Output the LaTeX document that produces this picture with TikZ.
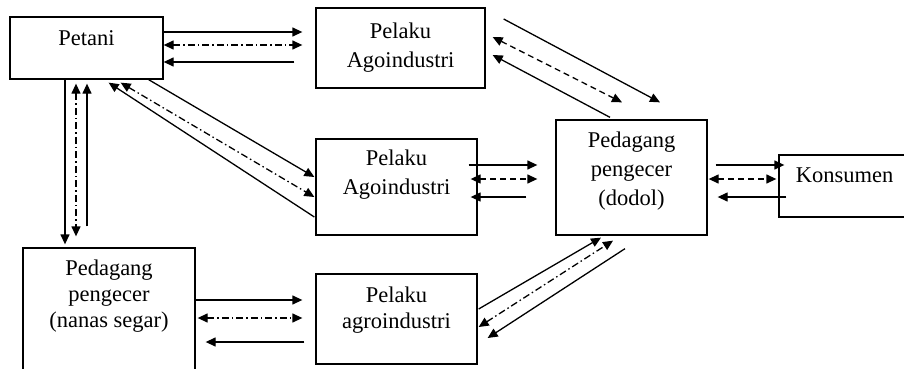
\documentclass[tikz,border=0pt]{standalone}
\usepackage{fontspec}
\setmainfont{Liberation Serif}
\usepackage{tikz}
\usetikzlibrary{arrows.meta}
\tikzset{%
  tipA/.tip={Triangle[length=10pt,width=9pt]},
}
\begin{document}
\begin{tikzpicture}[x=1pt,y=-1pt,
  font=\fontsize{22.5}{29}\selectfont,
  box/.style={draw, line width=1.3pt, inner sep=0pt},
  flow/.style={line width=1.3pt},
  dd/.style={flow, dash pattern=on 7pt off 3pt on 1.5pt off 3pt},
  ds/.style={flow, dash pattern=on 6pt off 4pt}]
\useasboundingbox (0,0) rectangle (904,369);
% boxes
\node[box, minimum width=153, minimum height=62, label={[yshift=10pt]center:Petani}] (petani) at (86.5,48) {};
\node[box, minimum width=169, minimum height=80, label={[align=center]center:Pelaku\\Agoindustri}] (agroA) at (400.5,48) {};
\node[box, minimum width=161, minimum height=96, label={[align=center,yshift=12pt]center:Pelaku\\Agoindustri}] (agroB) at (396.5,187) {};
\node[box, minimum width=151, minimum height=115, label={[align=center,yshift=6pt]center:Pedagang\\pengecer\\(dodol)}] (dodol) at (631.5,177.5) {};
\node[box, minimum width=151, minimum height=62, label={[xshift=-10pt,yshift=11pt]center:Konsumen}] (konsumen) at (854.5,186) {};
\node[box, minimum width=172, minimum height=142, label={[align=center,yshift=23pt,font=\fontsize{22.5}{26}\selectfont]center:Pedagang\\pengecer\\(nanas segar)}] (nanas) at (109,319) {};
\node[box, minimum width=161, minimum height=90, label={[align=center,yshift=9pt,font=\fontsize{22.5}{26}\selectfont]center:Pelaku\\agroindustri}] (agroC) at (396.5,319) {};
% petani -- agroA
\draw[flow, -tipA] ([yshift=16pt]petani.east) -- ([xshift=-13pt,yshift=16pt]agroA.west);
\draw[dd, tipA-tipA] ([yshift=3pt]petani.east) -- ([xshift=-13pt,yshift=3pt]agroA.west);
\draw[flow, -tipA] ([xshift=-21pt,yshift=-14pt]agroA.west) -- ([yshift=-14pt]petani.east);
% agroA -- dodol
\draw[flow, -tipA] ([xshift=18pt,yshift=29pt]agroA.east) -- ([xshift=28.5pt,yshift=17pt]dodol.north);
\draw[ds, tipA-tipA] ([xshift=7pt,yshift=11pt]agroA.east) -- ([xshift=-9.5pt,yshift=17pt]dodol.north);
\draw[flow, -tipA] ([xshift=-21.5pt,yshift=2pt]dodol.north) -- ([xshift=7pt,yshift=-7pt]agroA.east);
% petani -- agroB
\draw[flow, -tipA] ([xshift=-15pt]petani.south east) -- ([xshift=-1pt,yshift=10pt]agroB.west);
\draw[dd, tipA-tipA] ([xshift=-43pt,yshift=-3pt]petani.south east) -- ([xshift=-1pt,yshift=-10pt]agroB.west);
\draw[flow, -tipA] ([xshift=-1pt,yshift=-30pt]agroB.west) -- ([xshift=-55pt,yshift=-3pt]petani.south east);
% petani -- nanas
\draw[flow, -tipA] ([xshift=-21.5pt]petani.south) -- ([xshift=-44pt,yshift=3pt]nanas.north);
\draw[dd, tipA-tipA] ([xshift=-10.5pt,yshift=-4pt]petani.south) -- ([xshift=-33pt,yshift=11pt]nanas.north);
\draw[flow, -tipA] ([xshift=-22pt,yshift=21pt]nanas.north) -- ([xshift=0.5pt,yshift=-4pt]petani.south);
% agroB -- dodol
\draw[flow, -tipA] ([xshift=-9pt,yshift=22pt]agroB.east) -- ([xshift=-18pt,yshift=12.5pt]dodol.west);
\draw[ds, tipA-tipA] ([xshift=-7pt,yshift=8pt]agroB.east) -- ([xshift=-18pt,yshift=-1.5pt]dodol.west);
\draw[flow, -tipA] ([xshift=-29pt,yshift=-19.5pt]dodol.west) -- ([xshift=-7pt,yshift=-10pt]agroB.east);
% dodol -- konsumen
\draw[flow, -tipA] ([xshift=8pt,yshift=12.5pt]dodol.east) -- ([xshift=6pt,yshift=21pt]konsumen.west);
\draw[ds, tipA-tipA] ([xshift=1pt,yshift=-1.5pt]dodol.east) -- ([xshift=-2pt,yshift=7pt]konsumen.west);
\draw[flow, -tipA] ([xshift=8pt,yshift=-11pt]konsumen.west) -- ([xshift=10pt,yshift=-19.5pt]dodol.east);
% nanas -- agroC
\draw[flow, -tipA] ([yshift=19pt]nanas.east) -- ([xshift=-13pt,yshift=19pt]agroC.west);
\draw[dd, tipA-tipA] ([xshift=2pt,yshift=1pt]nanas.east) -- ([xshift=-13pt,yshift=1pt]agroC.west);
\draw[flow, -tipA] ([xshift=-11pt,yshift=-23pt]agroC.west) -- ([xshift=10pt,yshift=-23pt]nanas.east);
% agroC -- dodol
\draw[flow, -tipA] ([xshift=1pt,yshift=10pt]agroC.east) -- ([xshift=-30.5pt,yshift=-2pt]dodol.south);
\draw[dd, tipA-tipA] ([xshift=1pt,yshift=-8pt]agroC.east) -- ([xshift=-18.5pt,yshift=-5pt]dodol.south);
\draw[flow, -tipA] ([xshift=-6.5pt,yshift=-13pt]dodol.south) -- ([xshift=10pt,yshift=-19pt]agroC.east);
\end{tikzpicture}
\end{document}
